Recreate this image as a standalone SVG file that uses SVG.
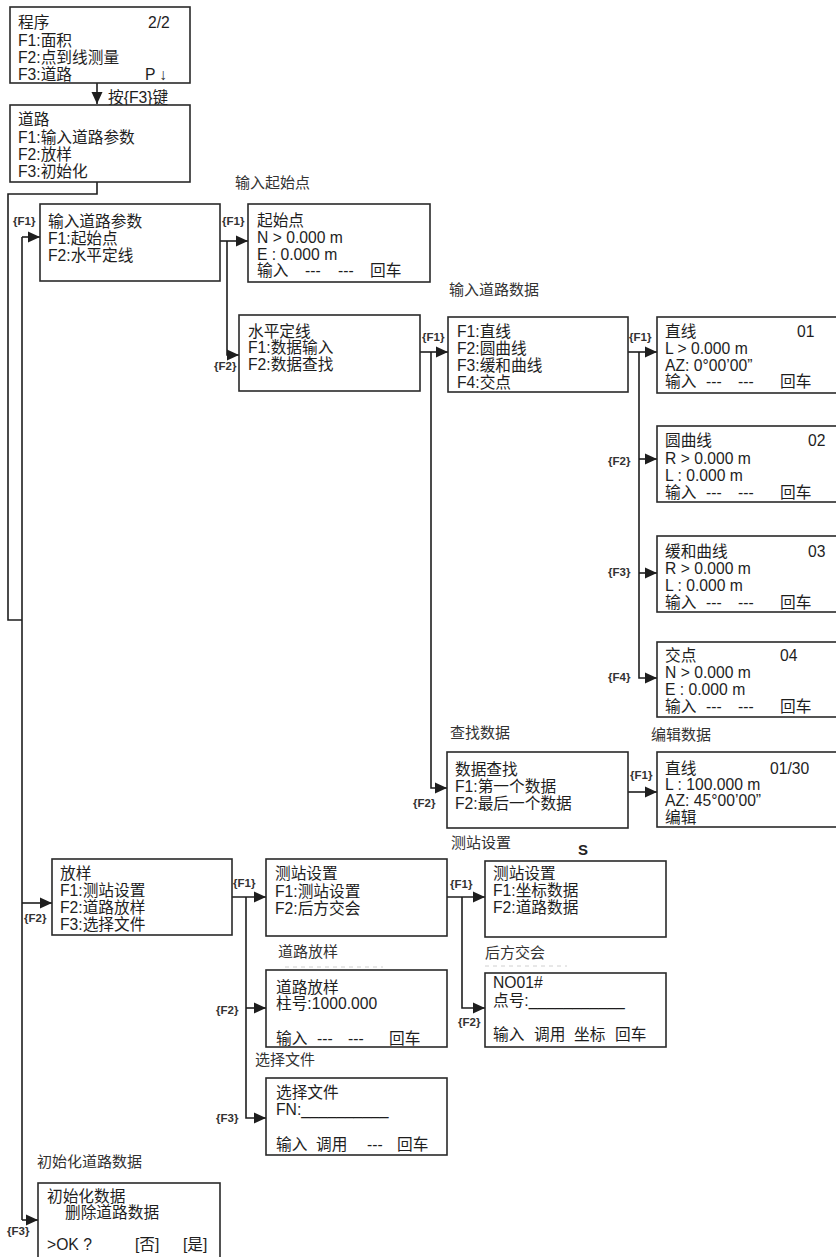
<svg xmlns="http://www.w3.org/2000/svg" width="836" height="1257" viewBox="0 0 836 1257">
<defs>
<style>
.box{fill:#fff;stroke:#2a2a2a;stroke-width:1.6}
.t{font-family:"Liberation Sans","Noto Sans CJK SC",sans-serif;font-size:15.7px;fill:#1e1e1e}
.ttl{font-family:"Liberation Sans","Noto Sans CJK SC",sans-serif;font-size:15px;fill:#333}
.k{font-family:"Liberation Sans","Noto Sans CJK SC",sans-serif;font-size:11.5px;font-weight:bold;fill:#333}
.s{font-family:"Liberation Sans",sans-serif;font-size:15px;font-weight:bold;fill:#222}
.c{fill:none;stroke:#1e1e1e;stroke-width:1.6}
.ca{fill:none;stroke:#1e1e1e;stroke-width:1.6;marker-end:url(#ah)}
.dash{stroke:#d0d0d0;stroke-width:1;stroke-dasharray:4 4;fill:none}
</style>
<marker id="ah" markerWidth="12" markerHeight="12" refX="12" refY="6" orient="auto" markerUnits="userSpaceOnUse">
<path d="M0,0.5 L12,6 L0,11.5 z" fill="#1e1e1e"/>
</marker>
</defs>
<rect width="836" height="1257" fill="#fff"/>

<g id="connectors">
<path class="ca" d="M97,83 V104"/>
<path class="c" d="M97,182 V194 H8 V620 H22"/>
<path class="c" d="M22,237 V1220"/>
<path class="ca" d="M22,237 H40"/>
<path class="ca" d="M22,903 H52"/>
<path class="ca" d="M22,1220 H38"/>
<path class="ca" d="M220,241 H248"/>
<path class="ca" d="M227,241 V355 H239"/>
<path class="ca" d="M420,352 H448"/>
<path class="ca" d="M431,352 V788 H447"/>
<path class="ca" d="M628,352 H657"/>
<path class="ca" d="M639,352 V678 H657"/>
<path class="ca" d="M639,459 H657"/>
<path class="ca" d="M639,573 H657"/>
<path class="ca" d="M628,792 H657"/>
<path class="ca" d="M232,897 H266"/>
<path class="ca" d="M246,897 V1118 H266"/>
<path class="ca" d="M246,1008 H266"/>
<path class="ca" d="M447,897 H485"/>
<path class="ca" d="M462,897 V1008 H485"/>
<text class="t" x="108" y="103">按{F3}键</text>
<text class="k" x="13" y="225">{F1}</text>
<text class="k" x="222" y="225">{F1}</text>
<text class="k" x="214" y="370">{F2}</text>
<text class="k" x="422" y="341">{F1}</text>
<text class="k" x="629" y="341">{F1}</text>
<text class="k" x="608" y="465">{F2}</text>
<text class="k" x="608" y="576">{F3}</text>
<text class="k" x="608" y="681">{F4}</text>
<text class="k" x="413" y="807">{F2}</text>
<text class="k" x="630" y="779">{F1}</text>
<text class="k" x="24" y="922">{F2}</text>
<text class="k" x="233" y="887">{F1}</text>
<text class="k" x="216" y="1014">{F2}</text>
<text class="k" x="216" y="1122">{F3}</text>
<text class="k" x="450" y="888">{F1}</text>
<text class="k" x="458" y="1026">{F2}</text>
<text class="k" x="7" y="1235">{F3}</text>
</g>

<g id="n-prog">
<rect class="box" x="10" y="7" width="180" height="76"/>
<text class="t" x="18" y="28">程序</text>
<text class="t" x="148" y="28">2/2</text>
<text class="t" x="18" y="46">F1:面积</text>
<text class="t" x="18" y="63">F2:点到线测量</text>
<text class="t" x="18" y="80">F3:道路</text>
<text class="t" x="145" y="80">P ↓</text>
</g>

<g id="n-road">
<rect class="box" x="10" y="105" width="180" height="77"/>
<text class="t" x="18" y="125">道路</text>
<text class="t" x="18" y="143">F1:输入道路参数</text>
<text class="t" x="18" y="160">F2:放样</text>
<text class="t" x="18" y="177">F3:初始化</text>
</g>

<g id="n-param">
<rect class="box" x="40" y="204" width="180" height="77"/>
<text class="t" x="48" y="227">输入道路参数</text>
<text class="t" x="48" y="244">F1:起始点</text>
<text class="t" x="48" y="261">F2:水平定线</text>
</g>

<g id="n-start">
<text class="ttl" x="235" y="188">输入起始点</text>
<rect class="box" x="248" y="204" width="182" height="78"/>
<text class="t" x="257" y="226">起始点</text>
<text class="t" x="257" y="243">N &gt; 0.000 m</text>
<text class="t" x="257" y="259.5">E : 0.000 m</text>
<text class="t" y="276"><tspan x="257">输入</tspan><tspan x="305">---</tspan><tspan x="338">---</tspan><tspan x="370">回车</tspan></text>
</g>

<g id="n-hline">
<rect class="box" x="239" y="315" width="181" height="76"/>
<text class="t" x="248" y="337">水平定线</text>
<text class="t" x="248" y="353">F1:数据输入</text>
<text class="t" x="248" y="370">F2:数据查找</text>
</g>

<g id="n-menu">
<text class="ttl" x="449" y="295">输入道路数据</text>
<rect class="box" x="448" y="317" width="180" height="75"/>
<text class="t" x="457" y="337">F1:直线</text>
<text class="t" x="457" y="354">F2:圆曲线</text>
<text class="t" x="457" y="371">F3:缓和曲线</text>
<text class="t" x="457" y="388">F4:交点</text>
</g>

<g id="n-line">
<rect class="box" x="657" y="317" width="200" height="76"/>
<text class="t" x="665" y="337">直线</text>
<text class="t" x="797" y="337">01</text>
<text class="t" x="665" y="354">L &gt; 0.000 m</text>
<text class="t" x="665" y="371">AZ: 0°00’00”</text>
<text class="t" y="387"><tspan x="665">输入</tspan><tspan x="706">---</tspan><tspan x="738">---</tspan><tspan x="780">回车</tspan></text>
</g>

<g id="n-circ">
<rect class="box" x="657" y="426" width="200" height="76"/>
<text class="t" x="665" y="446">圆曲线</text>
<text class="t" x="808" y="446">02</text>
<text class="t" x="665" y="464">R &gt; 0.000 m</text>
<text class="t" x="665" y="481">L : 0.000 m</text>
<text class="t" y="497.5"><tspan x="665">输入</tspan><tspan x="706">---</tspan><tspan x="738">---</tspan><tspan x="780">回车</tspan></text>
</g>

<g id="n-trans">
<rect class="box" x="657" y="536" width="200" height="76"/>
<text class="t" x="665" y="557">缓和曲线</text>
<text class="t" x="808" y="557">03</text>
<text class="t" x="665" y="574">R &gt; 0.000 m</text>
<text class="t" x="665" y="591">L : 0.000 m</text>
<text class="t" y="607.5"><tspan x="665">输入</tspan><tspan x="706">---</tspan><tspan x="738">---</tspan><tspan x="780">回车</tspan></text>
</g>

<g id="n-ip">
<rect class="box" x="657" y="642" width="200" height="75"/>
<text class="t" x="665" y="661">交点</text>
<text class="t" x="780" y="661">04</text>
<text class="t" x="665" y="677.5">N &gt; 0.000 m</text>
<text class="t" x="665" y="695">E : 0.000 m</text>
<text class="t" y="711.5"><tspan x="665">输入</tspan><tspan x="706">---</tspan><tspan x="738">---</tspan><tspan x="780">回车</tspan></text>
</g>

<g id="n-find">
<text class="ttl" x="450" y="738">查找数据</text>
<rect class="box" x="447" y="752" width="181" height="76"/>
<text class="t" x="455" y="775">数据查找</text>
<text class="t" x="455" y="792">F1:第一个数据</text>
<text class="t" x="455" y="809">F2:最后一个数据</text>
</g>

<g id="n-edit">
<text class="ttl" x="651" y="740">编辑数据</text>
<rect class="box" x="657" y="752" width="200" height="75"/>
<text class="t" x="665" y="774">直线</text>
<text class="t" x="770" y="774">01/30</text>
<text class="t" x="665" y="790">L : 100.000 m</text>
<text class="t" x="665" y="806">AZ: 45°00’00”</text>
<text class="t" x="665" y="823">编辑</text>
</g>

<g id="n-stake">
<rect class="box" x="52" y="859" width="180" height="76"/>
<text class="t" x="60" y="879">放样</text>
<text class="t" x="60" y="896">F1:测站设置</text>
<text class="t" x="60" y="913">F2:道路放样</text>
<text class="t" x="60" y="930">F3:选择文件</text>
</g>

<g id="n-station">
<rect class="box" x="266" y="859" width="181" height="77"/>
<text class="t" x="275" y="879">测站设置</text>
<text class="t" x="275" y="897">F1:测站设置</text>
<text class="t" x="275" y="914">F2:后方交会</text>
</g>

<g id="n-station2">
<text class="ttl" x="451" y="848">测站设置</text>
<text class="s" x="578" y="855">S</text>
<rect class="box" x="485" y="861" width="181" height="76"/>
<text class="t" x="493" y="879">测站设置</text>
<text class="t" x="493" y="896">F1:坐标数据</text>
<text class="t" x="493" y="913">F2:道路数据</text>
</g>

<g id="n-resect">
<text class="ttl" x="485" y="958">后方交会</text>
<path class="dash" d="M485,966 H567"/>
<rect class="box" x="485" y="973" width="181" height="74"/>
<text class="t" x="493" y="988">NO01#</text>
<text class="t" x="493" y="1006">点号:___________</text>
<text class="t" y="1040"><tspan x="493">输入</tspan><tspan x="534">调用</tspan><tspan x="574">坐标</tspan><tspan x="615">回车</tspan></text>
</g>

<g id="n-roadstake">
<text class="ttl" x="278" y="957">道路放样</text>
<path class="dash" d="M285,967 H383"/>
<rect class="box" x="266" y="970" width="181" height="77"/>
<text class="t" x="276" y="993">道路放样</text>
<text class="t" x="276" y="1009">柱号:1000.000</text>
<text class="t" y="1044"><tspan x="276">输入</tspan><tspan x="317">---</tspan><tspan x="348">---</tspan><tspan x="389">回车</tspan></text>
</g>

<g id="n-file">
<text class="ttl" x="255" y="1065">选择文件</text>
<rect class="box" x="266" y="1078" width="181" height="77"/>
<text class="t" x="276" y="1098">选择文件</text>
<text class="t" x="276" y="1115">FN:__________</text>
<text class="t" y="1150"><tspan x="276">输入</tspan><tspan x="316">调用</tspan><tspan x="367">---</tspan><tspan x="397">回车</tspan></text>
</g>

<g id="n-init">
<text class="ttl" x="37" y="1167">初始化道路数据</text>
<rect class="box" x="38" y="1183" width="182" height="100"/>
<text class="t" x="47" y="1202">初始化数据</text>
<text class="t" x="65" y="1218">删除道路数据</text>
<text class="t" x="47" y="1250">&gt;OK ?</text>
<text class="t" x="135" y="1250">[否]</text>
<text class="t" x="183" y="1250">[是]</text>
</g>
</svg>
